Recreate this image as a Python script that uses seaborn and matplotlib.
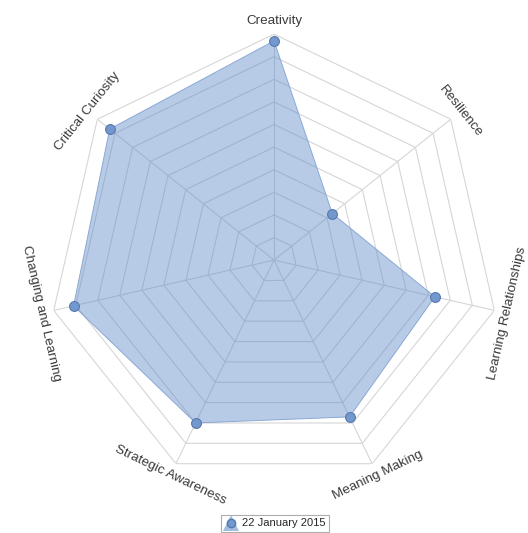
import numpy as np
import pandas as pd
import matplotlib
matplotlib.use('Agg')
import matplotlib.pyplot as plt
import seaborn as sns
from matplotlib.lines import Line2D

# datos (escala 0-10)
categories = ['Creativity', 'Resilience', 'Learning Relationships', 'Meaning Making',
              'Strategic Awareness', 'Changing and Learning', 'Critical Curiosity']
values = [9.7, 3.3, 7.3, 7.7, 8.0, 9.1, 9.3]
series_label = '22 January 2015'
levels = list(range(1, 11))

sns.set_theme(style='white')
plt.rcParams['font.family'] = ['Liberation Sans', 'DejaVu Sans']

n = len(categories)
angles = np.linspace(0, 2 * np.pi, n, endpoint=False)
df = pd.DataFrame({'angle': angles, 'value': values, 'category': categories})

fig = plt.figure(figsize=(5.28, 5.33), dpi=100)
ax = fig.add_axes([0.091, 0.088, 0.856, 0.848], projection='polar')
ax.set_theta_offset(np.pi / 2)
ax.set_theta_direction(-1)
ax.set_ylim(0, 10)
ax.grid(False)
ax.set_xticks([])
ax.set_yticks([])
ax.spines['polar'].set_visible(False)

# rejilla poligonal
closed = np.append(angles, angles[0])
for lv in levels:
    ax.plot(closed, [lv] * (n + 1), color='#d6d6d6', lw=0.8, zorder=1)
for a in angles:
    ax.plot([a, a], [0, 10], color='#d6d6d6', lw=0.8, zorder=1)

# serie
vals_closed = np.append(values, values[0])
ax.fill(closed, vals_closed, color='#5585c8', alpha=0.42, lw=0, zorder=2)
ax.plot(closed, vals_closed, color='#8aa8d4', lw=0.7, zorder=3)
sns.scatterplot(data=df, x='angle', y='value', ax=ax, s=50, color='#7398cd',
                edgecolor='#5479b0', linewidth=0.8, zorder=4, legend=False)
ax.set_xlabel('')
ax.set_ylabel('')

# etiquetas de los ejes
for a, cat in zip(angles, categories):
    deg = np.degrees(a)
    rot = -deg
    if 90 < deg < 270:
        rot += 180
    rot = (rot + 180) % 360 - 180
    ax.text(a, 10.58, cat, rotation=rot, rotation_mode='anchor', ha='center', va='center',
            fontsize=9.6, color='#3a3a3a')

# leyenda
h_area = Line2D([], [], marker='^', markersize=11, color='#a3bce0', lw=0, markeredgewidth=0)
h_pt = Line2D([], [], marker='o', markersize=6, color='#7398cd', markeredgecolor='#5479b0', lw=0)
leg = fig.legend([(h_area, h_pt)], [series_label], loc='center', bbox_to_anchor=(0.52, 0.018),
                 fontsize=8, frameon=True, fancybox=False, edgecolor='#999999',
                 borderpad=0.3, handletextpad=0.4, handlelength=1.2)
leg.get_frame().set_linewidth(0.8)

fig.savefig('out.png', dpi=100)
